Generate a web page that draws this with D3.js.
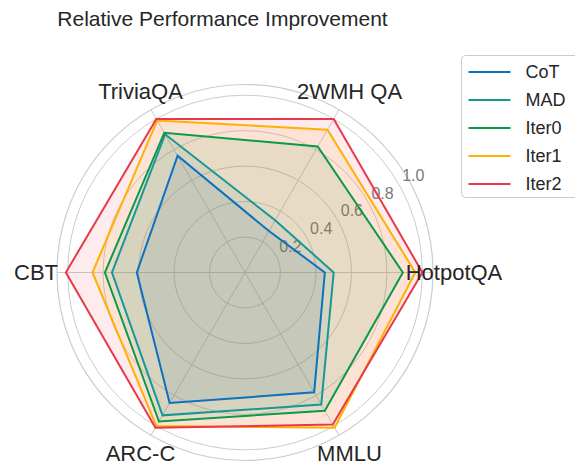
<!DOCTYPE html>
<html>
<head>
<meta charset="utf-8">
<script src="https://cdn.jsdelivr.net/npm/d3@7"></script>
<style>
  body { margin: 0; background: #fff; }
  text { font-family: "Liberation Sans", Arial, sans-serif; }
</style>
</head>
<body>
<div id="chart"></div>
<script>
// axes go counter-clockwise starting at 3 o'clock
var categories = ["HotpotQA", "2WMH QA", "TriviaQA", "CBT", "ARC-C", "MMLU"];
var seriesNames = ["CoT", "MAD", "Iter0", "Iter1", "Iter2"];
var cot   = [0.45, 0.27, 0.76, 0.61, 0.85, 0.78];
var mad   = [0.50, 0.34, 0.90, 0.75, 0.93, 0.86];
var iter0 = [0.89, 0.82, 0.91, 0.79, 0.97, 0.90];
var iter1 = [0.96, 0.93, 0.99, 0.86, 1.00, 1.01];
var iter2 = [1.00, 1.00, 1.00, 1.01, 1.01, 0.99];
var radialTicks = [0.2, 0.4, 0.6, 0.8, 1.0];
var titleText = "Relative Performance Improvement";

var seriesValues = [cot, mad, iter0, iter1, iter2];
var colors = ["#0a72be", "#17979a", "#0a9a4a", "#ffb000", "#e8394a"];

var width = 575, height = 465,
    cx = 245, cy = 272.5,
    outerRadius = 188, rMax = 1.06;

var r = d3.scaleLinear().domain([0, rMax]).range([0, outerRadius]);

// matplotlib angle (ccw from right) -> d3 radial angle (cw from top)
var theta = function(i) { return i * 2 * Math.PI / categories.length; };
var d3angle = function(i) { return Math.PI / 2 - theta(i); };

var svg = d3.select("#chart").append("svg")
    .attr("width", width)
    .attr("height", height);

svg.append("text")
  .attr("x", 222.5)
  .attr("y", 26)
  .attr("text-anchor", "middle")
  .attr("font-size", "21px")
  .attr("fill", "#262626")
  .text(titleText);

var g = svg.append("g")
  .attr("transform", "translate(" + cx + "," + cy + ")");

// grid
g.selectAll(".ring").data(radialTicks)
  .enter().append("circle")
    .attr("r", function(d) { return r(d); })
    .attr("fill", "none")
    .attr("stroke", "#cccccc")
    .attr("stroke-width", 1);

g.selectAll(".spoke").data(categories)
  .enter().append("line")
    .attr("x1", 0).attr("y1", 0)
    .attr("x2", function(d, i) { return outerRadius * Math.cos(theta(i)); })
    .attr("y2", function(d, i) { return -outerRadius * Math.sin(theta(i)); })
    .attr("stroke", "#cccccc")
    .attr("stroke-width", 1);

g.append("circle")
  .attr("r", outerRadius)
  .attr("fill", "none")
  .attr("stroke", "#cccccc")
  .attr("stroke-width", 1.2);

// radial tick labels along 30 degrees
var labelAngle = Math.PI / 6;
g.selectAll(".rlabel").data(radialTicks)
  .enter().append("text")
    .attr("x", function(d) { return (r(d) + 17) * Math.cos(labelAngle); })
    .attr("y", function(d) { return -(r(d) + 17) * Math.sin(labelAngle); })
    .attr("text-anchor", "middle")
    .attr("dominant-baseline", "central")
    .attr("font-size", "16px")
    .attr("fill", "#7a7a7a")
    .text(function(d) { return d.toFixed(1); });

// polygons
var radar = d3.lineRadial()
  .angle(function(d, i) { return d3angle(i); })
  .radius(function(d) { return r(d); })
  .curve(d3.curveLinearClosed);

seriesValues.forEach(function(vals, k) {
  g.append("path")
    .attr("d", radar(vals))
    .attr("fill", colors[k])
    .attr("fill-opacity", 0.1)
    .attr("stroke", "none");
});
seriesValues.forEach(function(vals, k) {
  g.append("path")
    .attr("d", radar(vals))
    .attr("fill", "none")
    .attr("stroke", colors[k])
    .attr("stroke-width", 2)
    .attr("stroke-linejoin", "miter");
});

// category labels
g.selectAll(".clabel").data(categories)
  .enter().append("text")
    .attr("x", function(d, i) { return 209 * Math.cos(theta(i)); })
    .attr("y", function(d, i) { return -209 * Math.sin(theta(i)); })
    .attr("text-anchor", "middle")
    .attr("dominant-baseline", "central")
    .attr("font-size", "22px")
    .attr("fill", "#262626")
    .text(function(d) { return d; });

// legend
var legend = svg.append("g").attr("transform", "translate(461.5,55.5)");
legend.append("rect")
  .attr("width", 140).attr("height", 142)
  .attr("rx", 4)
  .attr("fill", "#fff")
  .attr("stroke", "#cccccc");

var item = legend.selectAll(".item").data(seriesNames)
  .enter().append("g")
    .attr("transform", function(d, i) { return "translate(0," + (16.5 + 28 * i) + ")"; });
item.append("line")
  .attr("x1", 7).attr("x2", 49)
  .attr("stroke", function(d, i) { return colors[i]; })
  .attr("stroke-width", 2);
item.append("text")
  .attr("x", 64)
  .attr("dominant-baseline", "central")
  .attr("font-size", "18px")
  .attr("fill", "#262626")
  .text(function(d) { return d; });
</script>
</body>
</html>
